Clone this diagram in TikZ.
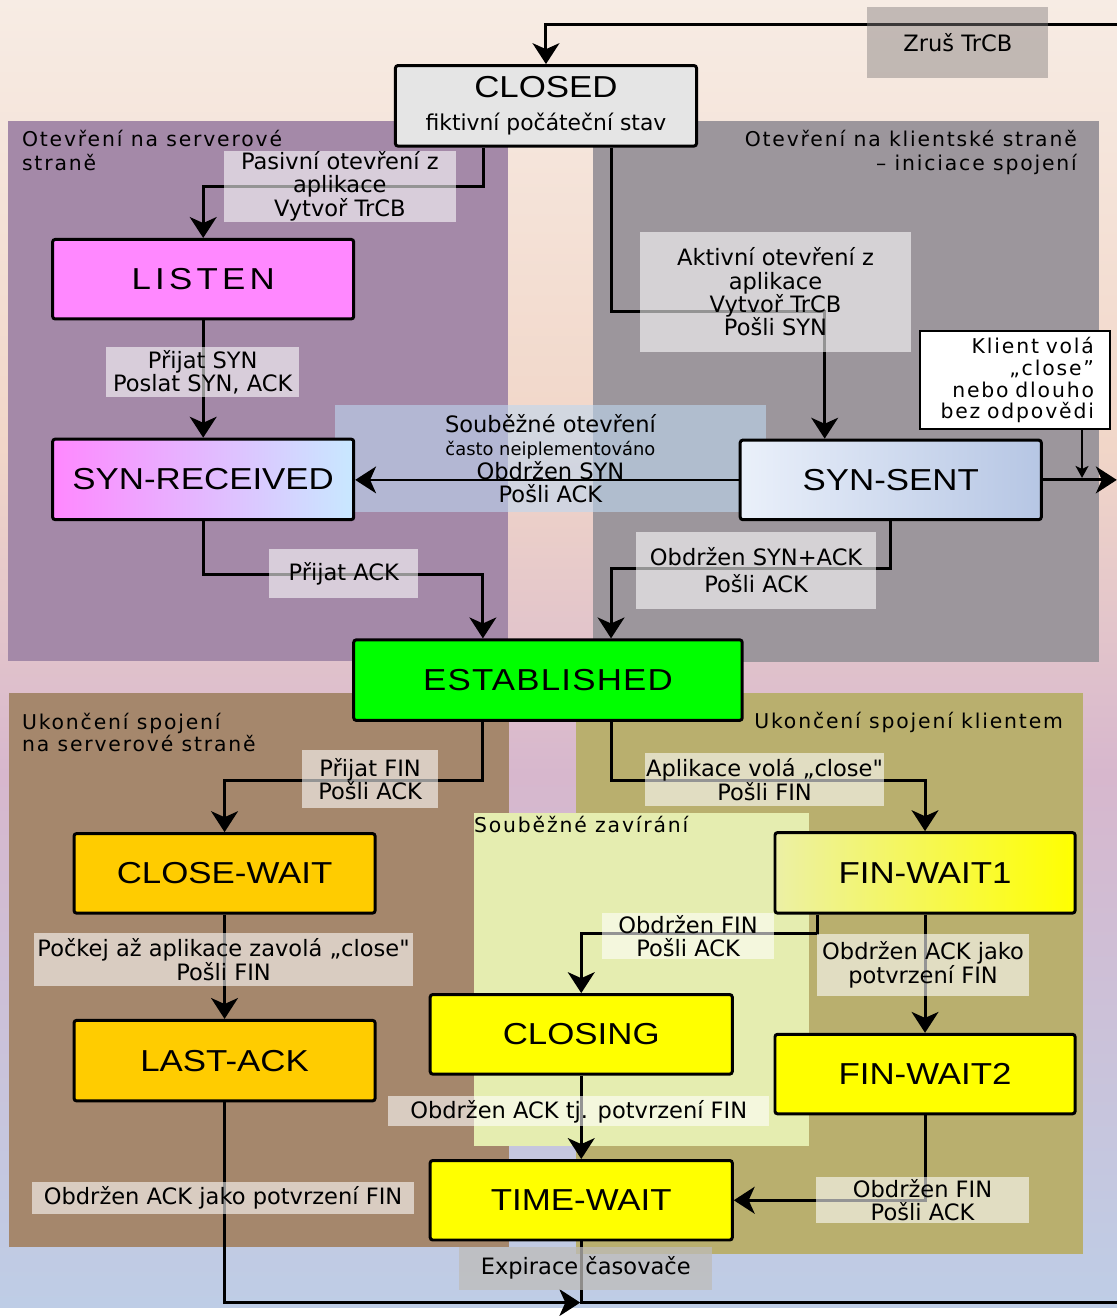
\documentclass[tikz,border=0pt]{standalone}
\usepackage{fontspec}
\setmainfont{DejaVu Sans}
\newfontfamily\statefont[FakeStretch=1.15]{Liberation Sans}
\newfontfamily\ttlfont[LetterSpace=9]{DejaVu Sans}
\newfontfamily\lblfont{DejaVu Sans}
\newcommand\lblsize{\fontsize{22.7}{23.5}\selectfont}
\usetikzlibrary{arrows.meta}
\pgfdeclarelayer{bglayer}
\pgfdeclarelayer{connlayer}
\pgfdeclarelayer{lbllayer}
\pgfsetlayers{bglayer,connlayer,lbllayer,main}
\definecolor{bgtop}{RGB}{247,236,228}
\definecolor{bgpeach}{RGB}{241,214,200}
\definecolor{bgmid}{RGB}{215,183,205}
\definecolor{bgbot}{RGB}{190,205,230}
\definecolor{regpurple}{RGB}{164,137,168}
\definecolor{reggrey}{RGB}{156,150,156}
\definecolor{regbrown}{RGB}{165,135,108}
\definecolor{regolive}{RGB}{185,175,110}
\definecolor{reglgreen}{RGB}{229,237,176}
\definecolor{stclosed}{RGB}{229,229,229}
\definecolor{stpink}{RGB}{255,136,255}
\definecolor{stlblue}{RGB}{200,232,255}
\definecolor{stsynl}{RGB}{234,240,250}
\definecolor{stsynr}{RGB}{182,198,228}
\definecolor{stgreen}{RGB}{0,255,0}
\definecolor{storange}{RGB}{255,204,0}
\definecolor{styellow}{RGB}{255,255,0}
\definecolor{stfwl}{RGB}{236,240,165}
\definecolor{lblblue}{RGB}{190,215,240}
\definecolor{lblgrey}{RGB}{130,125,125}
\definecolor{lblgreyb}{RGB}{190,188,185}
\pgfdeclareverticalshading{bgshade}{100bp}{color(0bp)=(bgbot); color(25bp)=(bgbot); color(45.4bp)=(bgmid); color(57.9bp)=(bgpeach); color(75bp)=(bgtop); color(100bp)=(bgtop)}
\begin{document}
\begin{tikzpicture}[x=1pt,y=-1pt,
  stbox/.style={draw=black, line width=3pt, rounded corners=2.5pt, inner sep=0pt, align=center, font=\statefont\fontsize{30.5}{33}\selectfont},
  conn/.style={line width=3pt, line join=miter, -{Stealth[length=21pt,width=27pt,inset=6pt]}},
  connsmall/.style={line width=2pt, -{Stealth[length=12pt,width=13pt,inset=3pt]}},
  plainline/.style={line width=3pt, line join=miter},
  lbl/.style={fill=white, fill opacity=0.58, text opacity=1, inner sep=0pt, align=center, font=\lblfont\lblsize},
  ttl/.style={inner sep=0pt, align=left, font=\ttlfont\fontsize{20.5}{24}\selectfont},
]
% ---------- background and regions ----------
\begin{pgfonlayer}{bglayer}
\shade[shading=bgshade] (0,0) rectangle (1124,1316);
\useasboundingbox (0,0) rectangle (1124,1316);
\fill[regpurple] (8,122) rectangle (511,665);
\fill[reggrey] (597,122) rectangle (1106,666);
\fill[regbrown] (9,697) rectangle (512,1255);
\fill[regolive] (580,697) rectangle (1090,1262);
\fill[reglgreen] (477,818) rectangle (814,1153);
\node[ttl, anchor=north west] (t1) at (22,131) {Otevření na serverové\\straně};
\node[ttl, anchor=north east, align=right] (t2) at (1084,131) {Otevření na klientské straně\\– iniciace spojení};
\node[ttl, anchor=north west, font=\ttlfont\fontsize{20.5}{22}\selectfont] (t3) at (22,718) {Ukončení spojení\\na serverové straně};
\node[ttl, anchor=base east] (t4) at (1070,733) {Ukončení spojení klientem};
\node[ttl, anchor=base west] (t5) at (477,838) {Souběžné zavírání};
\end{pgfonlayer}
% ---------- states ----------
\node[stbox, fill=stclosed, minimum width=303, minimum height=81] (closed) at (549.5,106.5) {CLOSED\\{\lblfont\fontsize{22}{22}\selectfont fiktivní počáteční stav}};
\node[stbox, fill=stpink, minimum width=303, minimum height=80] (listen) at (204.5,281) {\addfontfeature{LetterSpace=14}LISTEN};
\node[stbox, left color=stpink, right color=stlblue, minimum width=303, minimum height=81] (synrcvd) at (204.5,482.5) {SYN-RECEIVED};
\node[stbox, left color=stsynl, right color=stsynr, minimum width=303, minimum height=80] (synsent) at (896.5,483) {SYN-SENT};
\node[stbox, fill=stgreen, minimum width=391, minimum height=81] (estab) at (551.5,684.5) {\addfontfeature{LetterSpace=4}ESTABLISHED};
\node[stbox, fill=storange, minimum width=303, minimum height=80] (closewait) at (226,879) {CLOSE-WAIT};
\node[stbox, fill=storange, minimum width=303, minimum height=81] (lastack) at (226,1067.5) {LAST-ACK};
\node[stbox, left color=stfwl, right color=styellow, minimum width=302, minimum height=81] (finwait1) at (931,878.5) {FIN-WAIT1};
\node[stbox, fill=styellow, minimum width=304, minimum height=80] (closing) at (585,1041) {CLOSING};
\node[stbox, fill=styellow, minimum width=302, minimum height=80] (finwait2) at (931,1081) {FIN-WAIT2};
\node[stbox, fill=styellow, minimum width=304, minimum height=80] (timewait) at (585,1208) {TIME-WAIT};
\node[draw=black, line width=2pt, fill=white, text width=159pt, inner xsep=16pt, inner ysep=0pt, minimum height=99, align=right, font=\ttlfont\fontsize{20.5}{22}\selectfont] (klient) at (1021.5,382.5) {Klient volá\\„close”\\nebo dlouho\\bez odpovědi};
% ---------- free ends ----------
\coordinate (exitT) at (1124,25);
\coordinate (exitR) at (1124,483);
\coordinate (kend) at (1089,481);
\coordinate (junc) at (584,1311);
\coordinate (exitB) at (1124,1311);
% ---------- connectors ----------
\begin{pgfonlayer}{connlayer}
\draw[conn] (exitT) -| (closed.north);
\draw[conn] (487,0 |- closed.south) -- (487,188) -| (listen.north);
\draw[conn] (615,0 |- closed.south) -- (615,314) -| (830,0 |- synsent.north);
\draw[conn] (listen) -- (synrcvd);
\draw[conn] (synrcvd.south) -- (204.5,578) -| (486,0 |- estab.north);
\draw[conn] (896,0 |- synsent.south) -- (896,572) -| (615,0 |- estab.north);
\draw[conn] (synsent.east) -- (exitR);
\draw[connsmall] (1089,0 |- klient.south) -- (kend);
\draw[conn] (486,0 |- estab.south) -- (486,786) -| (closewait.north);
\draw[conn] (615,0 |- estab.south) -- (615,786) -| (finwait1.north);
\draw[conn] (closewait) -- (lastack);
\draw[conn] (lastack.south) |- (junc);
\draw[plainline] (timewait.south) -- (timewait.south |- junc) -- (exitB);
\draw[conn] (823,0 |- finwait1.south) -- (823,940) -| (closing.north);
\draw[conn] (finwait1) -- (finwait2);
\draw[conn] (closing) -- (timewait);
\draw[conn] (finwait2.south) |- (timewait.east);
\end{pgfonlayer}
% ---------- labels ----------
\begin{pgfonlayer}{lbllayer}
\node[lbl, minimum width=234, minimum height=72] (l1) at (342,187.5) {Pasivní otevření z\\aplikace\\Vytvoř TrCB};
\node[lbl, minimum width=272, minimum height=120] (l2) at (780.5,294) {Aktivní otevření z\\aplikace\\Vytvoř TrCB\\Pošli SYN};
\node[lbl, minimum width=194, minimum height=50] (l3) at (204,374.5) {Přijat SYN\\Poslat SYN, ACK};
\node[lbl, fill=lblblue, fill opacity=0.6, minimum width=433, minimum height=107] (l4) at (554,461.5) {Souběžné otevření\\{\fontsize{18}{18}\selectfont často neiplementováno}\\Obdržen SYN\\Pošli ACK};
\draw[conn, line width=2pt] (synsent.west) -- (synsent.west -| synrcvd.east);
\node[lbl, minimum width=150, minimum height=49] (l5) at (346,577.5) {Přijat ACK};
\node[lbl, minimum width=242, minimum height=78] (l6) at (761,574) {Obdržen SYN+ACK\\[4pt]Pošli ACK};
\node[lbl, minimum width=137, minimum height=58] (l7) at (372.5,784) {Přijat FIN\\Pošli ACK};
\node[lbl, minimum width=241, minimum height=53] (l8) at (769.5,784.5) {Aplikace volá „close"\\Pošli FIN};
\node[lbl, minimum width=381, minimum height=53] (l9) at (225,966) {Počkej až aplikace zavolá „close"\\Pošli FIN};
\node[lbl, minimum width=385, minimum height=32] (l10) at (224.5,1206) {Obdržen ACK jako potvrzení FIN};
\node[lbl, minimum width=173, minimum height=47] (l11) at (692.5,942) {Obdržen FIN\\Pošli ACK};
\node[lbl, minimum width=214, minimum height=62] (l12) at (929,971) {Obdržen ACK jako\\potvrzení FIN};
\node[lbl, minimum width=383, minimum height=30] (l13) at (582.5,1118.5) {Obdržen ACK tj. potvrzení FIN};
\node[lbl, minimum width=215, minimum height=46] (l14) at (928.5,1208) {Obdržen FIN\\Pošli ACK};
\node[lbl, fill=lblgreyb, fill opacity=0.75, minimum width=255, minimum height=43] (l15) at (589.5,1276.5) {Expirace časovače};
\node[lbl, fill=lblgrey, fill opacity=0.45, minimum width=182, minimum height=72] (l16) at (964,43) {Zruš TrCB};
\end{pgfonlayer}
\end{tikzpicture}
\end{document}
